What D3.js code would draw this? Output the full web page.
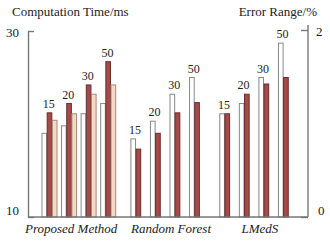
<!DOCTYPE html>
<html>
<head>
<meta charset="utf-8">
<script src="https://cdn.jsdelivr.net/npm/d3@7"></script>
<style>
  body { margin: 0; background: #fff; }
  svg text { font-family: "Liberation Serif", "Times New Roman", "DejaVu Serif", serif; fill: #222; }
  .domain, .tick line { stroke: #777; stroke-width: 1.4; }
</style>
</head>
<body>
<div id="chart"></div>
<script>
const groups = ["Proposed Method", "Random Forest", "LMedS"]
const levels = ["15", "20", "30", "50"]
const series = ["white", "red", "peach"]

// values per group, per level (ms)
const whiteValues = [[19.0, 19.8, 21.1, 22.2], [18.4, 20.3, 23.2, 25.0], [21.1, 22.2, 25.0, 28.7]]
const redValues = [[21.2, 22.2, 24.2, 26.7], [17.3, 19.0, 21.2, 22.3], [21.1, 23.2, 24.3, 25.0]]
const peachValues = [[20.4, 21.1, 23.2, 24.2], null, null]

const leftTicks = [10, 30]
const rightTicks = [0, 2]

const width = 330, height = 241
const margin = {top: 31, bottom: 24, left: 28, right: 22}
const serif = '"Liberation Serif", "Times New Roman", "DejaVu Serif", serif'

const fills = {white: "#ffffff", red: "#a34a4a", peach: "#f4dac6"}
const strokes = {white: "#888", red: "#6e2c2c", peach: "#a88a78"}

const svg = d3.select("#chart").append("svg")
  .attr("width", width).attr("height", height)

const y = d3.scaleLinear().domain([10, 30]).range([height - margin.bottom, margin.top])
const yRight = d3.scaleLinear().domain([0, 2]).range([height - margin.bottom, margin.top - 1])

const x0 = d3.scaleBand().domain(groups).range([40, 296]).paddingInner(0.12)
const x1 = d3.scaleBand().domain(levels).range([0, x0.bandwidth()])
const x2 = d3.scaleBand().domain(series).range([2, 17]).paddingInner(0.1)

// flatten into bar records
const bars = []
groups.forEach((g, gi) => {
  levels.forEach((l, li) => {
    const vals = {white: whiteValues[gi], red: redValues[gi], peach: peachValues[gi]}
    series.forEach(s => {
      if (vals[s]) bars.push({group: g, level: l, series: s, value: vals[s][li]})
    })
  })
})

svg.append("g").selectAll("rect")
  .data(bars)
  .join("rect")
  .attr("x", d => x0(d.group) + x1(d.level) + x2(d.series))
  .attr("width", x2.bandwidth())
  .attr("y", d => y(d.value))
  .attr("height", d => y(10) - y(d.value))
  .attr("fill", d => fills[d.series])
  .attr("stroke", d => strokes[d.series])
  .attr("stroke-width", 1)

// level labels above each cluster
const labels = d3.rollups(bars, v => ({
    max: d3.max(v, d => d.value),
    n: v.length
  }), d => d.group, d => d.level)
  .flatMap(([g, ls]) => ls.map(([l, o]) => ({group: g, level: l, ...o})))

svg.append("g").selectAll("text")
  .data(labels)
  .join("text")
  .attr("x", d => x0(d.group) + x1(d.level) + 2 + (d.n * x2.step()) / 2 - 1)
  .attr("y", d => y(d.max) - 5)
  .attr("text-anchor", "middle")
  .attr("font-family", serif)
  .attr("font-size", 12)
  .text(d => d.level)

// axes
const leftAxis = svg.append("g")
  .attr("transform", `translate(${margin.left},0)`)
  .call(d3.axisLeft(y).tickValues(leftTicks).tickFormat(d3.format("d"))
    .tickSize(-6).tickPadding(9).tickSizeOuter(0))
leftAxis.attr("font-family", serif)
leftAxis.selectAll("text").attr("font-size", 13)
  .attr("dy", d => d == 10 ? "-0.2em" : "0.4em")

const rightAxis = svg.append("g")
  .attr("transform", `translate(${width - margin.right},0)`)
  .call(d3.axisRight(yRight).tickValues(rightTicks).tickFormat(d3.format("d"))
    .tickSize(-7).tickPadding(8).tickSizeOuter(0))
rightAxis.attr("font-family", serif)
rightAxis.selectAll("text").attr("font-size", 13)
  .attr("dy", d => d == 0 ? "-0.2em" : "0.4em")
  .attr("x", d => d == 0 ? 10 : 8)
rightAxis.select(".domain").attr("d", `M0,${margin.top - 6}V${y(10)}`)

// baseline
svg.append("line")
  .attr("x1", margin.left).attr("x2", width - margin.right)
  .attr("y1", y(10)).attr("y2", y(10))
  .attr("stroke", "#777").attr("stroke-width", 1.4)

// group labels
svg.append("g").selectAll("text")
  .data(groups)
  .join("text")
  .attr("x", (d, i) => x0(d) + x0.bandwidth() / 2 + (i == 0 ? -8 : 3))
  .attr("y", 233)
  .attr("text-anchor", "middle")
  .attr("font-family", serif)
  .attr("font-size", 13)
  .attr("font-style", "italic")
  .text(d => d)

// axis titles
svg.append("text").attr("x", 12).attr("y", 16).attr("font-size", 13)
  .attr("font-family", serif)
  .text("Computation Time/ms")
svg.append("text").attr("x", 317).attr("y", 16).attr("font-size", 13)
  .attr("font-family", serif)
  .attr("text-anchor", "end")
  .text("Error Range/%")
</script>
</body>
</html>
